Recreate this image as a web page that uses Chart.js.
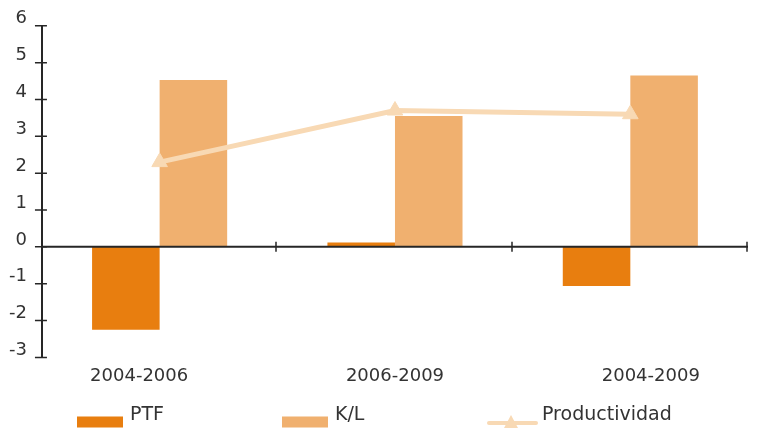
<!DOCTYPE html>
<html>
<head>
<meta charset="utf-8">
<script src="https://cdn.jsdelivr.net/npm/chart.js@4"></script>
<style>
    body { margin: 0; background: #fff; }
    #wrap { width: 758px; height: 440px; }
</style>
</head>
<body>
<div id="wrap"><canvas id="chart"></canvas></div>
<script>
const categories = ['2004-2006', '2006-2009', '2004-2009'];
const ptfValues = [-2.25, 0.12, -1.06];
const klValues = [4.53, 3.55, 4.65];
const prodValues = [2.3, 3.7, 3.6];
const yTicks = [-3, -2, -1, 0, 1, 2, 3, 4, 5, 6];

const FONT = '"DejaVu Sans", sans-serif';
const INK = '#262626';

// zero line, crossing tick marks and the bottom legend
const axisMarks = {
    id: 'axisMarks',
    afterDatasetsDraw(chart) {
        const { ctx, chartArea, scales: { x, y } } = chart;
        const y0 = y.getPixelForValue(0);
        ctx.save();
        ctx.strokeStyle = INK;
        ctx.lineWidth = 2;
        ctx.beginPath();
        ctx.moveTo(chartArea.left, y0);
        ctx.lineTo(chartArea.right, y0);
        ctx.stroke();

        ctx.lineWidth = 1.5;
        ctx.beginPath();
        for (let i = 1; i <= categories.length; i++) {
            const px = Math.round(x.getPixelForValue(i - 0.5)) - 1;
            ctx.moveTo(px, y0 - 5);
            ctx.lineTo(px, y0 + 5);
        }
        y.ticks.forEach(t => {
            const py = y.getPixelForValue(t.value);
            ctx.moveTo(chartArea.left - 7, py);
            ctx.lineTo(chartArea.left + 5, py);
        });
        ctx.stroke();
        ctx.restore();
    },
    afterDraw(chart) {
        const ctx = chart.ctx;
        const cy = chart.height - 18;
        ctx.save();
        ctx.font = '19px ' + FONT;
        ctx.textBaseline = 'middle';
        chart.data.datasets.forEach((ds, i) => {
            const lx = 77 + i * 205;
            if (ds.type === 'line') {
                ctx.strokeStyle = ds.borderColor;
                ctx.lineWidth = 4;
                ctx.lineCap = 'round';
                ctx.beginPath();
                ctx.moveTo(lx + 2, cy + 1);
                ctx.lineTo(lx + 49, cy + 1);
                ctx.stroke();
                ctx.fillStyle = ds.borderColor;
                ctx.beginPath();
                ctx.moveTo(lx + 24, cy - 7);
                ctx.lineTo(lx + 31, cy + 6);
                ctx.lineTo(lx + 17, cy + 6);
                ctx.closePath();
                ctx.fill();
            } else {
                ctx.fillStyle = ds.backgroundColor;
                ctx.fillRect(lx, cy - 5.5, 46, 11);
            }
            ctx.fillStyle = '#333';
            ctx.fillText(ds.label, lx + (ds.type === 'line' ? 55 : 53), cy - 7);
        });
        ctx.restore();
    }
};

new Chart(document.getElementById('chart'), {
    type: 'bar',
    data: {
        labels: categories,
        datasets: [
            {
                label: 'PTF',
                data: ptfValues,
                backgroundColor: '#E87E0F',
                xAxisID: 'x',
                order: 1
            },
            {
                label: 'K/L',
                data: klValues,
                backgroundColor: '#F0B06F',
                xAxisID: 'x',
                order: 1
            },
            {
                type: 'line',
                label: 'Productividad',
                data: prodValues,
                borderColor: '#F8D9B4',
                backgroundColor: '#F8D9B4',
                borderWidth: 5,
                pointStyle: 'triangle',
                pointRadius: 9,
                pointBorderWidth: 1,
                pointBackgroundColor: '#F8D9B4',
                pointBorderColor: '#F8D9B4',
                tension: 0,
                xAxisID: 'x',
                order: 0
            }
        ]
    },
    options: {
        responsive: true,
        maintainAspectRatio: false,
        animation: false,
        categoryPercentage: 0.574,
        barPercentage: 1,
        layout: { padding: { top: 10, right: 6, bottom: 45, left: -6 } },
        scales: {
            x: {
                display: false,
                offset: true
            },
            x2: {
                type: 'linear',
                position: 'bottom',
                offset: false,
                min: -0.38,
                max: 2.38,
                afterBuildTicks: axis => {
                    axis.ticks = categories.map((c, i) => ({ value: i }));
                },
                grid: { display: false, drawTicks: false },
                border: { display: false },
                ticks: {
                    callback: v => categories[v],
                    autoSkip: false,
                    maxRotation: 0,
                    padding: 8,
                    color: '#333',
                    font: { family: FONT, size: 18 }
                }
            },
            y: {
                min: yTicks[0],
                max: yTicks[yTicks.length - 1],
                afterBuildTicks: axis => {
                    axis.ticks = yTicks.map(v => ({ value: v }));
                },
                grid: { display: false, drawTicks: false },
                border: { display: true, color: INK, width: 2 },
                ticks: {
                    padding: 15,
                    labelOffset: -7,
                    color: '#333',
                    font: { family: FONT, size: 18 }
                }
            }
        },
        plugins: {
            legend: { display: false },
            tooltip: { enabled: false }
        }
    },
    plugins: [axisMarks]
});
</script>
</body>
</html>
